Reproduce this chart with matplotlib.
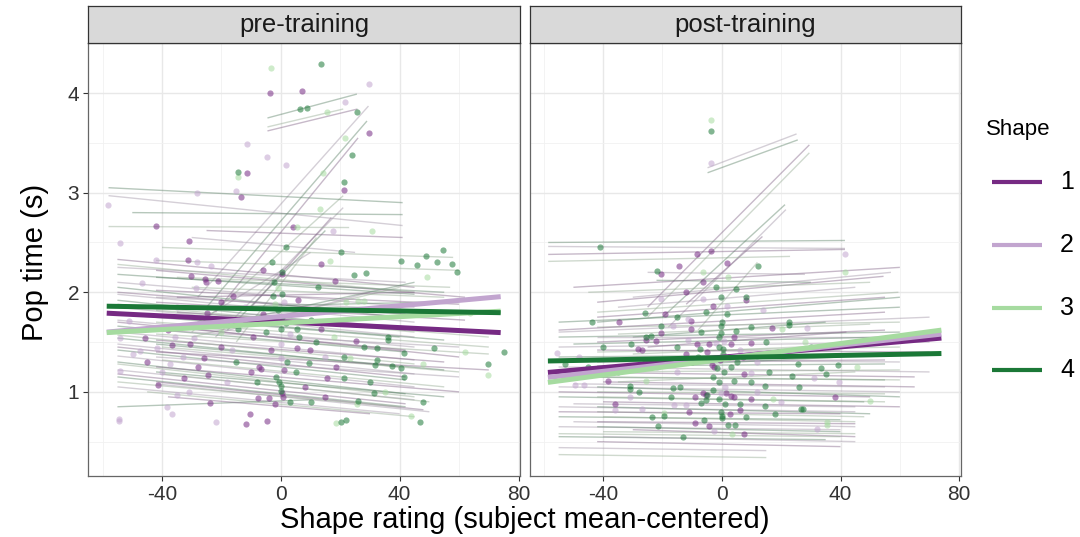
import matplotlib
matplotlib.use('Agg')
import matplotlib.pyplot as plt
import matplotlib.colors as mcolors
from matplotlib.lines import Line2D
import numpy as np

plt.rcParams['font.family'] = ['Liberation Sans', 'DejaVu Sans']
plt.rcParams['axes.unicode_minus'] = False

# Categories / labels
shape_labels = ['1', '2', '3', '4']
shape_colors = ['#762a83', '#c2a5cf', '#a6dba0', '#1b7837']
panel_titles = ['pre-training', 'post-training']
x_ticks = [-40, 0, 40, 80]
y_ticks = [1, 2, 3, 4]

# Group-level fits: endpoints per shape (shape 1..4)
trend_x = [-58.6, 74.0]
pre_trend_y = [(1.79, 1.595), (1.60, 1.956), (1.595, 1.81), (1.86, 1.795)]
post_trend_y = [(1.195, 1.54), (1.145, 1.58), (1.095, 1.62), (1.31, 1.385)]

# Per-subject fits: (x start, y start, x end, y end, shape)
pre_lines = [
    (-4.5, 3.75, 25.6, 3.99, 4), (-4.5, 3.62, 25.8, 3.84, 1), (-4.5, 3.66, 21.0, 3.84, 3),
    (-28, 1.95, 29.5, 3.87, 2), (-25, 1.85, 29.0, 3.72, 4), (-22, 1.80, 26.0, 3.55, 1),
    (-30, 1.60, 21.0, 2.97, 3), (-22, 1.55, 21.0, 2.85, 2), (-18, 1.62, 15.0, 2.62, 4),
    (-10, 1.85, 17.0, 2.75, 1), (-15, 1.50, 12.0, 2.55, 3), (-28, 1.70, 10.0, 2.40, 2),
    (-58, 3.05, 41, 2.90, 4), (-58, 2.97, 41, 2.67, 2), (-58, 2.66, 23, 2.65, 3),
    (-50, 2.80, 41, 2.78, 4), (-40, 2.45, 58, 2.35, 3), (-30, 2.55, 25, 2.40, 2),
    (-25, 2.62, 41, 2.55, 1),
    (-55, 2.33, 45, 2.05, 1), (-55, 2.25, 42, 2.10, 2), (-42, 2.32, 60, 2.22, 3),
    (-55, 2.18, 45, 1.98, 4), (-42, 2.22, 62, 1.95, 1), (-55, 2.10, 45, 1.85, 2),
    (-35, 2.15, 57, 2.05, 3), (-55, 2.05, 40, 1.75, 4), (-42, 2.02, 60, 1.88, 1),
    (-55, 1.98, 45, 1.70, 2), (-30, 2.05, 55, 1.95, 3), (-55, 1.92, 42, 1.62, 4),
    (-42, 1.90, 62, 1.72, 1), (-55, 1.85, 45, 1.55, 2), (-42, 1.82, 70, 1.55, 3),
    (-55, 1.78, 40, 1.55, 4), (-35, 1.80, 60, 1.62, 1), (-55, 1.72, 45, 1.45, 2),
    (-42, 1.70, 70, 1.45, 3), (-55, 1.66, 42, 1.40, 4), (-35, 1.65, 60, 1.35, 1),
    (-55, 1.60, 45, 1.32, 2), (-42, 1.58, 70, 1.38, 3), (-55, 1.54, 40, 1.25, 4),
    (-42, 1.52, 55, 1.30, 1), (-55, 1.48, 45, 1.18, 2), (-40, 1.45, 60, 1.20, 3),
    (-55, 1.42, 42, 1.12, 4), (-42, 1.40, 70, 1.22, 1), (-55, 1.36, 45, 1.05, 2),
    (-40, 1.32, 55, 1.05, 3), (-55, 1.30, 42, 0.98, 4), (-42, 1.25, 60, 1.00, 1),
    (-55, 1.22, 45, 0.92, 2), (-40, 1.18, 50, 0.90, 3), (-55, 1.15, 42, 0.85, 4),
    (-42, 1.10, 48, 0.82, 1), (-55, 1.05, 40, 0.78, 2), (-45, 1.00, 45, 0.75, 3),
    (-55, 0.85, 10, 0.92, 4), (-38, 0.95, 30, 0.78, 1),
    (-30, 1.55, 40, 2.05, 3), (-25, 1.65, 45, 2.10, 4), (-20, 1.60, 30, 2.00, 2),
    (-55, 2.28, 45, 2.00, 3), (-42, 2.15, 55, 2.00, 4), (-55, 2.00, 42, 1.78, 1),
    (-42, 1.95, 60, 1.80, 2), (-55, 1.88, 45, 1.60, 3), (-42, 1.76, 55, 1.52, 4),
    (-55, 1.70, 42, 1.42, 1), (-42, 1.62, 60, 1.45, 2), (-55, 1.57, 45, 1.28, 3),
    (-42, 1.48, 55, 1.22, 4), (-55, 1.45, 42, 1.15, 1), (-42, 1.35, 60, 1.15, 2),
    (-55, 1.28, 45, 0.95, 3), (-42, 1.20, 55, 0.95, 4), (-55, 1.18, 42, 0.88, 1),
    (-42, 1.08, 50, 0.80, 2), (-55, 1.10, 40, 0.85, 3), (-30, 1.85, 50, 1.90, 4),
    (-35, 1.95, 45, 2.00, 1), (-25, 1.75, 35, 1.85, 2),
]
post_lines = [
    (-4.8, 3.25, 25.2, 3.59, 2), (-4.8, 3.20, 25.6, 3.53, 4), (-25, 1.85, 29.5, 3.48, 1),
    (-25, 1.75, 29.5, 3.40, 3), (-20, 1.75, 21.3, 2.88, 4), (-18, 1.65, 21.6, 2.83, 2),
    (-12, 1.88, 13.7, 2.56, 1), (-8, 1.62, 12, 2.30, 3),
    (-58.5, 2.50, 41.5, 2.52, 4), (-58.5, 2.46, 41.5, 2.44, 2), (-58.5, 2.38, 41.5, 2.43, 1),
    (-58.5, 2.31, 23, 2.36, 3), (-25, 2.20, 28, 2.18, 2), (-22, 2.12, 30, 2.10, 4),
    (-42, 1.90, 54.5, 2.16, 1), (-42, 1.80, 59.5, 2.00, 3), (-30, 1.95, 57, 2.20, 2),
    (-55, 1.70, 60, 1.85, 4), (-42, 1.75, 55, 1.95, 1), (-55, 1.60, 70, 1.75, 2),
    (-42, 1.65, 60, 1.70, 3), (-55, 1.55, 60, 1.60, 4), (-42, 1.50, 55, 1.62, 1),
    (-55, 1.45, 70, 1.50, 2), (-42, 1.40, 60, 1.45, 3), (-55, 1.35, 60, 1.38, 4),
    (-42, 1.30, 55, 1.32, 1), (-55, 1.25, 70, 1.20, 2), (-42, 1.20, 60, 1.22, 3),
    (-55, 1.15, 55, 1.12, 4), (-40, 1.10, 65, 1.05, 1), (-55, 1.05, 60, 1.00, 2),
    (-42, 1.00, 55, 0.98, 3), (-55, 0.95, 48, 0.90, 4), (-40, 0.90, 60, 0.85, 1),
    (-55, 0.85, 45, 0.80, 2), (-42, 0.80, 48, 0.75, 3), (-55, 0.75, 40, 0.72, 4),
    (-42, 0.70, 45, 0.68, 1), (-55, 0.65, 40, 0.62, 2), (-40, 0.60, 45, 0.58, 3),
    (-55, 0.55, 35, 0.52, 4), (-42, 0.50, 40, 0.45, 1), (-55, 0.44, 15, 0.41, 2),
    (-55, 0.37, 15, 0.34, 3), (-30, 1.55, 35, 1.70, 4), (-28, 1.30, 40, 1.42, 2),
    (-50, 2.05, 60, 2.25, 1), (-45, 2.00, 50, 2.10, 3), (-35, 1.85, 45, 2.05, 2),
    (-42, 1.70, 60, 1.95, 4), (-55, 1.62, 55, 1.80, 1), (-35, 1.58, 50, 1.68, 3),
    (-42, 1.55, 65, 1.55, 2), (-50, 1.48, 55, 1.55, 4), (-42, 1.42, 70, 1.40, 1),
    (-30, 1.38, 50, 1.48, 3), (-50, 1.32, 60, 1.30, 2), (-42, 1.26, 55, 1.28, 4),
    (-55, 1.20, 65, 1.15, 1), (-42, 1.15, 60, 1.12, 3), (-50, 1.08, 55, 1.05, 2),
    (-42, 1.05, 60, 0.95, 4), (-55, 1.00, 50, 0.95, 1), (-42, 0.95, 55, 0.90, 3),
    (-50, 0.88, 45, 0.85, 2), (-42, 0.85, 50, 0.78, 4), (-55, 0.80, 40, 0.78, 1),
    (-40, 0.75, 45, 0.70, 3), (-50, 0.70, 45, 0.65, 2), (-42, 0.65, 40, 0.60, 4),
    (-30, 0.62, 45, 0.55, 1), (-55, 0.58, 40, 0.55, 3), (-40, 0.55, 45, 0.50, 2),
    (-30, 1.25, 40, 1.35, 4), (-25, 1.45, 42, 1.60, 1), (-35, 1.10, 45, 1.20, 3),
]

# Observations: (x, y, shape)
pre_points = [
    (-3.4, 4.25, 3), (13.4, 4.29, 4), (-3.5, 4.0, 1), (7.0, 4.02, 1), (29.8, 4.09, 2),
    (6.4, 3.84, 4), (8.7, 3.85, 4), (15.5, 3.81, 3), (21.6, 3.91, 2), (25.8, 3.81, 4),
    (29.8, 3.60, 1), (-11.3, 3.49, 2), (-4.8, 3.36, 2), (1.6, 3.28, 2), (21.6, 3.55, 3),
    (24, 3.38, 4), (-14.4, 3.21, 4), (-14.4, 3.16, 3), (-11.3, 3.20, 1), (14.2, 3.2, 3),
    (21.4, 3.11, 4), (21.4, 3.03, 1), (-28.1, 3.0, 2), (-15.2, 3.02, 2), (-13.3, 2.96, 1),
    (-58.3, 2.88, 2), (-42, 2.67, 1), (-54.2, 2.49, 2), (-31, 2.51, 1), (4.2, 2.66, 1),
    (5.5, 2.66, 3), (17.7, 2.62, 2), (30.7, 2.62, 3), (13.2, 2.84, 3), (1.6, 2.45, 4),
    (54.6, 2.42, 4), (-42, 2.32, 2), (-31.3, 2.32, 1), (-28.2, 2.30, 2), (-23.4, 2.26, 2),
    (-6.1, 2.22, 1), (0.3, 2.20, 4), (0.3, 2.18, 1), (13.5, 2.28, 1), (20.2, 2.40, 4),
    (16.6, 2.31, 3), (40.6, 2.31, 4), (45.7, 2.27, 4), (48.7, 2.36, 4), (52.6, 2.30, 4),
    (57.7, 2.28, 4), (59.4, 2.20, 4), (49.2, 2.15, 3), (24.5, 2.17, 4), (28.8, 2.19, 4),
    (-30.2, 2.16, 1), (-25.5, 2.13, 1), (-25.3, 2.10, 1), (-21.3, 2.11, 1), (-46.7, 2.09, 2),
    (-28.4, 2.04, 2), (-2.3, 2.10, 4), (-1.1, 2.04, 3), (12.4, 2.05, 4), (18.2, 2.11, 1),
    (-16, 1.96, 1), (-2.5, 1.96, 4), (0.5, 1.98, 4), (5.8, 1.92, 1), (1.1, 1.90, 2),
    (26.1, 1.91, 3), (28, 1.91, 3), (63.6, 1.79, 3), (-25, 1.79, 1), (-51.1, 1.71, 2),
    (1.7, 1.69, 4), (0, 1.63, 4), (5.6, 1.63, 4), (-14.3, 1.63, 4), (13.4, 1.63, 1),
    (-45.7, 1.54, 1), (-54.1, 1.54, 2), (-36.6, 1.47, 1), (-30.6, 1.48, 1), (-29.3, 1.54, 2),
    (-35.5, 1.55, 2), (-47.3, 1.41, 2), (-49.8, 1.38, 2), (-41.7, 1.44, 2), (-54, 1.21, 2),
    (-25.8, 1.34, 1), (-16.3, 1.42, 2), (-9.5, 1.55, 1), (-3.3, 1.42, 1), (0, 1.48, 2),
    (0, 1.34, 2), (5.4, 1.44, 1), (9.9, 1.42, 1), (25.2, 1.51, 1), (32.4, 1.44, 4),
    (36.2, 1.55, 4), (36, 1.52, 4), (41.3, 1.39, 4), (51.6, 1.44, 4), (61.9, 1.40, 3),
    (75, 1.40, 4), (69.6, 1.28, 4), (69.6, 1.17, 3), (48, 1.28, 3), (40.3, 1.24, 4),
    (37.5, 1.26, 4), (31.8, 1.27, 4), (32.4, 1.32, 4), (21.4, 1.35, 4), (23.4, 1.34, 3),
    (9.5, 1.29, 4), (-7.3, 1.25, 1), (-6.7, 1.23, 1), (1, 1.22, 1), (15.7, 1.14, 1),
    (18.6, 1.25, 1), (21.4, 1.14, 4), (41.3, 1.15, 4), (-37.2, 1.28, 2), (-32.5, 1.14, 1),
    (-24.6, 1.17, 1), (-41.4, 1.07, 1), (-35, 0.97, 2), (-31, 1.0, 2), (0, 1.06, 4),
    (0.2, 1.01, 4), (0.5, 0.99, 1), (0.8, 0.95, 1), (-7.6, 0.94, 1), (-4, 0.94, 1),
    (31.4, 0.99, 4), (26, 0.91, 4), (25.6, 0.88, 3), (47.8, 0.90, 4), (-23.7, 0.89, 1),
    (-38.2, 0.85, 2), (-36.6, 0.78, 2), (-54.4, 0.73, 2), (-54.4, 0.71, 2), (-21.7, 0.70, 2),
    (-10.4, 0.78, 1), (-11.6, 0.68, 1), (-4.5, 0.71, 1), (18.6, 0.69, 3), (20.3, 0.70, 4),
    (22, 0.72, 4), (46.7, 0.70, 4), (43.9, 0.76, 3), (-1, 1.82, 4), (0.5, 1.75, 4),
    (-2, 1.88, 3), (3, 1.58, 2), (-0.5, 1.10, 4), (-1.5, 1.15, 4), (2, 1.30, 4),
    (-12, 1.85, 2), (8, 1.80, 3), (10, 1.72, 4), (-20, 1.60, 3),
    (-15, 1.30, 4), (-10, 1.20, 1), (-18, 1.10, 2), (-20, 1.45, 1), (-5, 1.60, 4),
    (5, 1.20, 4), (8, 1.05, 1), (12, 1.50, 4), (15, 1.35, 2), (18, 1.55, 3),
    (-28, 1.25, 1), (-33, 1.35, 2), (-40, 1.20, 2), (-45, 1.30, 1), (10, 0.90, 4),
    (15, 0.95, 1), (-8, 1.10, 4), (3, 0.90, 4), (-2, 0.88, 1), (28, 1.45, 4),
    (30, 1.10, 4), (35, 1.00, 3), (-12, 1.68, 2), (-6, 1.78, 1), (6, 1.55, 4),
    (-20, 1.90, 1), (-35, 1.85, 2), (-3, 2.30, 4), (22, 1.90, 3), (-38, 1.62, 1),
]
post_points = [
    (-3.7, 3.73, 3), (-3.7, 3.62, 4), (-3.7, 3.30, 2), (-40.9, 2.45, 4), (-8.5, 2.38, 1),
    (-3.5, 2.41, 1), (1.6, 2.29, 1), (-14.5, 2.26, 1), (12.1, 2.26, 4), (41.6, 2.38, 2),
    (41.6, 2.2, 3), (-21.7, 2.21, 4), (-20.4, 2.18, 1), (-6.5, 2.10, 1), (-6.3, 2.2, 3),
    (4.7, 2.03, 4), (8.1, 1.95, 4), (8.1, 1.92, 1), (-0.3, 1.95, 4), (-20.4, 1.93, 2),
    (-6.5, 1.93, 2), (-2.9, 1.86, 1), (1.6, 1.86, 2), (-5.4, 1.80, 4), (1.6, 1.78, 4),
    (-25.8, 1.79, 4), (-19, 1.78, 1), (-34.5, 1.70, 1), (-43.8, 1.70, 4), (-11.3, 1.73, 2),
    (-10.5, 1.71, 1), (-10.5, 1.63, 1), (-20.4, 1.66, 4), (-16.6, 1.66, 2), (-0.3, 1.66, 4),
    (-0.3, 1.59, 4), (4.7, 1.61, 4), (17, 1.64, 1), (22.7, 1.70, 4), (22.7, 1.67, 4),
    (28.8, 1.64, 2), (20.3, 1.63, 3), (-20.4, 1.59, 1), (-23.8, 1.56, 4), (-25.4, 1.52, 1),
    (-25.4, 1.55, 4), (-30.5, 1.48, 4), (-28.2, 1.43, 1), (-27, 1.42, 1), (-22.3, 1.51, 1),
    (-11.3, 1.52, 2), (-8.5, 1.48, 1), (-4.2, 1.48, 1), (-1.8, 1.49, 2), (0.7, 1.51, 2),
    (3.1, 1.48, 1), (9.8, 1.49, 1), (-7.4, 1.43, 4), (0.5, 1.43, 4), (-55.5, 1.39, 2),
    (-53, 1.28, 4), (-38.4, 1.11, 1), (-49.3, 1.07, 2), (-46.3, 1.07, 2), (-31.1, 1.06, 4),
    (-31.1, 1.03, 4), (-25.4, 1.11, 3), (-3.3, 1.27, 1), (-2.5, 1.25, 1), (-1.5, 1.24, 4),
    (7.4, 1.18, 1), (9.7, 1.19, 2), (4.1, 1.11, 4), (14.5, 1.06, 4), (23.5, 1.16, 4),
    (25.8, 1.28, 4), (33.4, 1.24, 4), (39, 1.27, 4), (30.9, 1.14, 2), (39.5, 1.10, 2),
    (45.5, 1.25, 3), (-6.5, 0.99, 1), (-5.4, 0.97, 1), (-1.1, 0.93, 4), (-0.3, 0.99, 2),
    (1.5, 0.99, 1), (3, 0.96, 1), (4, 0.95, 1), (9.8, 0.93, 1), (-7.0, 0.89, 4),
    (-5.4, 0.92, 4), (-4.9, 0.97, 4), (-12.2, 0.87, 2), (-16.1, 0.87, 2), (-16.4, 1.04, 4),
    (-36.1, 0.88, 1), (-35.9, 0.82, 2), (-31, 0.95, 2), (-27, 0.83, 2), (-23.4, 0.75, 4),
    (-21.5, 0.66, 4), (-19.6, 0.76, 4), (-19.6, 0.79, 3), (-13.1, 0.55, 4), (-9.1, 0.69, 1),
    (-4.3, 0.66, 1), (-2.5, 0.61, 2), (-0.3, 0.80, 4), (-0.1, 0.76, 4), (0.2, 0.74, 4),
    (2.0, 0.67, 4), (2.6, 0.78, 1), (3.3, 0.58, 3), (4.6, 0.67, 4), (7.4, 0.58, 1),
    (6.1, 0.82, 1), (14.4, 0.86, 4), (17.8, 0.78, 4), (17.2, 0.93, 3), (26.6, 0.83, 4),
    (27.4, 0.83, 4), (32.2, 0.63, 2), (35.6, 0.70, 3), (35.6, 0.67, 3), (38.2, 0.95, 1),
    (49.8, 0.91, 3), (0, 1.70, 4), (0.3, 1.38, 4), (-0.5, 1.32, 1), (0.8, 1.20, 4),
    (-1, 1.10, 4), (1.2, 1.05, 2), (-0.8, 1.55, 4), (2.5, 1.35, 4), (-3, 1.15, 4),
    (5, 1.30, 4), (6, 1.42, 2), (-10, 1.30, 4), (-15, 1.20, 2), (12, 1.30, 2),
    (15, 1.50, 4), (-35, 1.20, 4), (-45, 1.25, 4), (30, 1.45, 4), (35, 1.18, 4),
    (-15, 1.45, 4), (-12, 1.38, 1), (-18, 1.30, 4), (-22, 1.25, 2), (-8, 1.35, 4),
    (-5, 1.40, 1), (3, 1.25, 4), (7, 1.35, 1), (10, 1.10, 4), (12, 1.00, 2),
    (16, 1.20, 4), (19, 1.40, 1), (-14, 1.05, 4), (-9, 0.95, 1), (-26, 1.30, 1),
    (-30, 1.25, 2), (-40, 1.45, 4), (-48, 1.35, 2), (26, 1.05, 4), (28, 1.50, 3),
    (20, 0.90, 2), (8, 0.75, 4), (-6, 0.72, 4), (-11, 0.80, 1), (-17, 0.95, 4),
    (-28, 1.00, 4), (-2, 2.05, 4), (2, 2.15, 3), (-12, 2.00, 1), (10, 1.65, 4),
    (14, 1.82, 2), (-3, 1.02, 4), (1, 0.88, 4), (-1, 1.45, 4), (4, 1.55, 1),
    (-7, 1.60, 4), (-15, 1.75, 4), (6, 0.88, 4),
]

# Figure layout (pixel based, 1080x537)
W, H = 1080, 537
fig = plt.figure(figsize=(W / 100, H / 100), dpi=100)
panel_boxes = [(88.3, 520.0), (529.5, 960.7)]
p_top, p_bot, s_top = 43.3, 476.0, 6.0
border = '#333333'
grey = np.array(mcolors.to_rgb('#8c8c8c'))


def faded(c):
    return tuple(0.4 * np.array(mcolors.to_rgb(c)) + 0.6 * grey)


panels = [(pre_lines, pre_points, pre_trend_y), (post_lines, post_points, post_trend_y)]
for i, (lines, points, trends) in enumerate(panels):
    x0, x1 = panel_boxes[i]
    ax = fig.add_axes([x0 / W, (H - p_bot) / H, (x1 - x0) / W, (p_bot - p_top) / H])
    ax.set_xlim(-64.8, 80.5)
    ax.set_ylim(0.155, 4.49)

    # Grid
    ax.set_xticks(x_ticks)
    ax.set_yticks(y_ticks)
    ax.set_xticks([-60, -20, 20, 60], minor=True)
    ax.set_yticks([0.5, 1.5, 2.5, 3.5, 4.5], minor=True)
    ax.grid(which='major', color='#e8e8e8', lw=1.0, zorder=0)
    ax.grid(which='minor', color='#f1f1f1', lw=0.6, zorder=0)
    ax.set_axisbelow(True)
    ax.tick_params(which='minor', length=0)
    ax.tick_params(which='major', length=3.5, width=0.8, color=border,
                   labelsize=15, labelcolor='#333333', pad=3)
    if i == 1:
        ax.set_yticklabels([])
        ax.tick_params(axis='y', length=0)
    for sp in ax.spines.values():
        sp.set_color('#666666')
        sp.set_linewidth(0.9)

    # Per-subject lines
    for (lx0, ly0, lx1, ly1, s) in lines:
        ax.plot([lx0, lx1], [ly0, ly1], color=faded(shape_colors[s - 1]),
                alpha=0.45, lw=1.0, zorder=1, solid_capstyle='butt')

    # Points
    pts = np.array(points)
    for k in range(4):
        sel = pts[:, 2] == k + 1
        ax.scatter(pts[sel, 0], pts[sel, 1], s=20, color=shape_colors[k],
                   alpha=0.55, linewidths=0, zorder=2)

    # Group trends
    for k in range(4):
        ax.plot(trend_x, trends[k], color=shape_colors[k], lw=3.6, zorder=3,
                solid_capstyle='butt')

    # Strip
    sax = fig.add_axes([x0 / W, (H - p_top) / H, (x1 - x0) / W, (p_top - s_top) / H])
    sax.set_facecolor('#d9d9d9')
    sax.set_xticks([])
    sax.set_yticks([])
    for sp in sax.spines.values():
        sp.set_color('#333333')
        sp.set_linewidth(0.9)
    sax.text(0.5, 0.48, panel_titles[i], ha='center', va='center', fontsize=18.5,
             color='#1a1a1a', transform=sax.transAxes)

# Axis titles
fig.text(35 / W, 1 - 262 / H, 'Pop time (s)', rotation=90, ha='center', va='center',
         fontsize=21)
fig.text(525 / W, 1 - 520 / H, 'Shape rating (subject mean-centered)', ha='center',
         va='center', fontsize=21)

# Legend
fig.text(986 / W, 1 - 130 / H, 'Shape', ha='left', va='center', fontsize=16)
key_y = [182, 245, 308, 370]
for k in range(4):
    yy = 1 - key_y[k] / H
    fig.add_artist(Line2D([992 / W, 1042 / W], [yy, yy], transform=fig.transFigure,
                          color=shape_colors[k], lw=3.0, solid_capstyle='butt'))
    fig.text(1060 / W, yy, shape_labels[k], ha='left', va='center', fontsize=18)

fig.savefig('out.png', dpi=100)
